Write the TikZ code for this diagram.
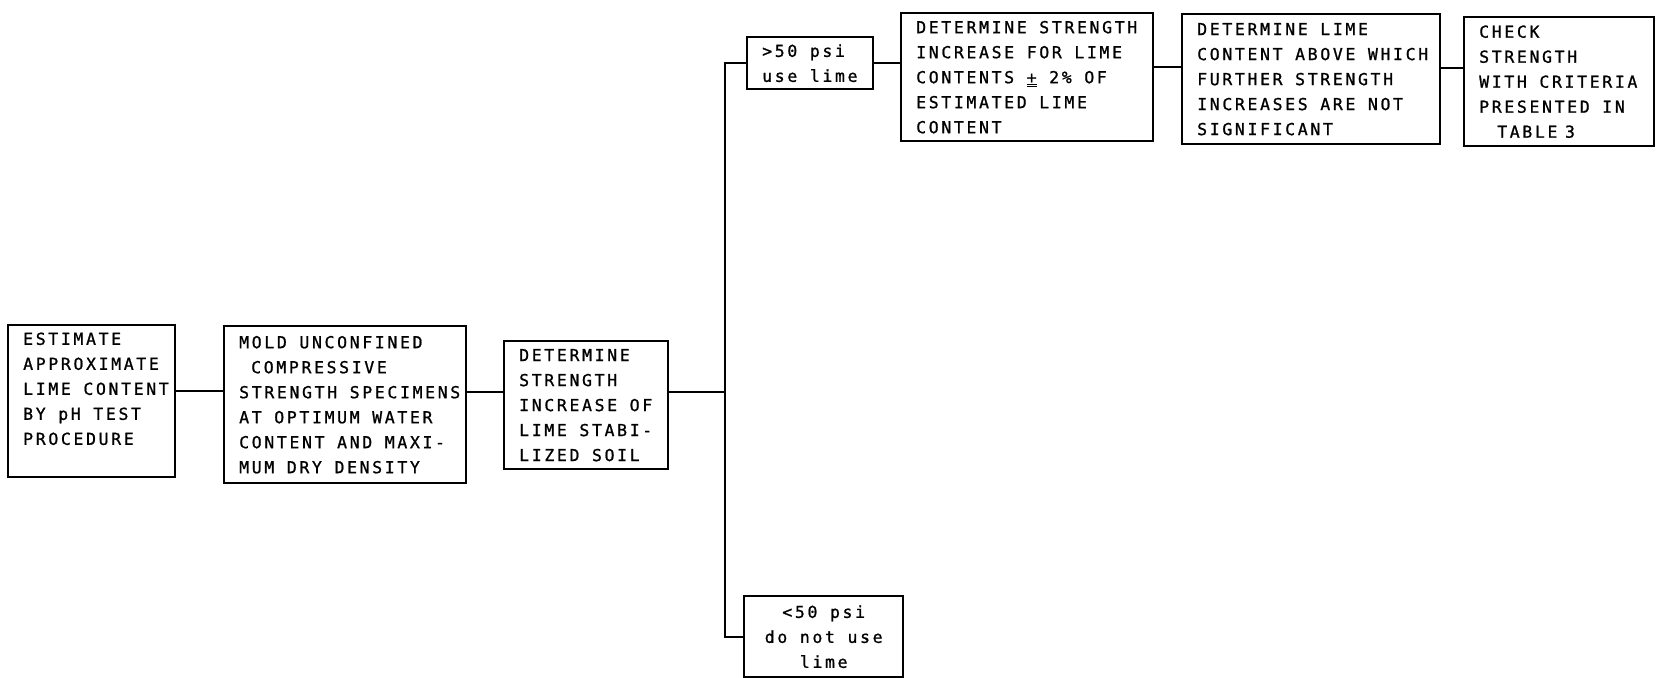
\documentclass[tikz,border=0pt]{standalone}
\usepackage{fontspec}
\newfontfamily\letterfont[LetterSpace=16, FakeBold=1]{DejaVu Sans Mono}
\DeclareRobustCommand\lettering{\letterfont\fontsize{16.5}{25}\selectfont}

\begin{document}
\begin{tikzpicture}[x=1pt, y=-1pt,
	every node/.style={font=\lettering},
	flowbox/.style={draw, line width=2.4pt, anchor=north west, align=flush left, inner xsep=15pt, inner ysep=0pt},
	link/.style={line width=2pt}]
	\useasboundingbox (0,0) rectangle (1659,677);
	\node[flowbox, text width=137pt, minimum height=152pt] (est) at (7,324) {ESTIMATE\\APPROXIMATE\\\mbox{LIME CONTENT}\\BY pH TEST\\PROCEDURE\\~};
	\node[flowbox, text width=212pt, minimum height=157pt] (mold) at (223,325) {MOLD UNCONFINED\\\hspace*{12pt}COMPRESSIVE\\\mbox{STRENGTH SPECIMENS}\\AT OPTIMUM WATER\\CONTENT AND MAXI-\\MUM DRY DENSITY};
	\node[flowbox, text width=134pt, minimum height=128pt] (det) at (503,340) {DETERMINE\\STRENGTH\\INCREASE OF\\LIME STABI-\\LIZED SOIL};
	\node[flowbox, text width=96pt, minimum height=52pt] (hi) at (746,36) {>50 psi\\use lime};
	\node[flowbox, align=flush center, text width=129pt, minimum height=81pt] (lo) at (743,595) {<50 psi\\do not use\\lime};
	\node[flowbox, text width=222pt, minimum height=128pt] (inc) at (900,12) {\mbox{DETERMINE STRENGTH}\\INCREASE FOR LIME\\CONTENTS \underline{\underline{+}} 2\% OF\\ESTIMATED LIME\\CONTENT};
	\node[flowbox, text width=228pt, minimum height=130pt] (abv) at (1181,13) {DETERMINE LIME\\\mbox{CONTENT ABOVE WHICH}\\FURTHER STRENGTH\\INCREASES ARE NOT\\SIGNIFICANT};
	\node[flowbox, text width=160pt, minimum height=129pt] (chk) at (1463,16) {CHECK\\STRENGTH\\\mbox{WITH CRITERIA}\\PRESENTED IN\\\hspace*{18pt}TABLE\hspace{-5pt} 3};
	\coordinate (fork) at (725,392);
	\draw[link] ([yshift=10pt]est.east) -- ([yshift=10pt]est.east -| mold.west);
	\draw[link] ([yshift=13pt]mold.east) -- ([yshift=13pt]mold.east -| det.west);
	\draw[link] (det.east |- fork) -- (fork);
	\draw[link] (hi.west) -| (fork) |- (lo.west);
	\draw[link] (hi.east) -- (hi.east -| inc.west);
	\draw[link] ([yshift=10pt]inc.east) -- ([yshift=10pt]inc.east -| abv.west);
	\draw[link] ([yshift=11pt]abv.east) -- ([yshift=11pt]abv.east -| chk.west);
\end{tikzpicture}
\end{document}
